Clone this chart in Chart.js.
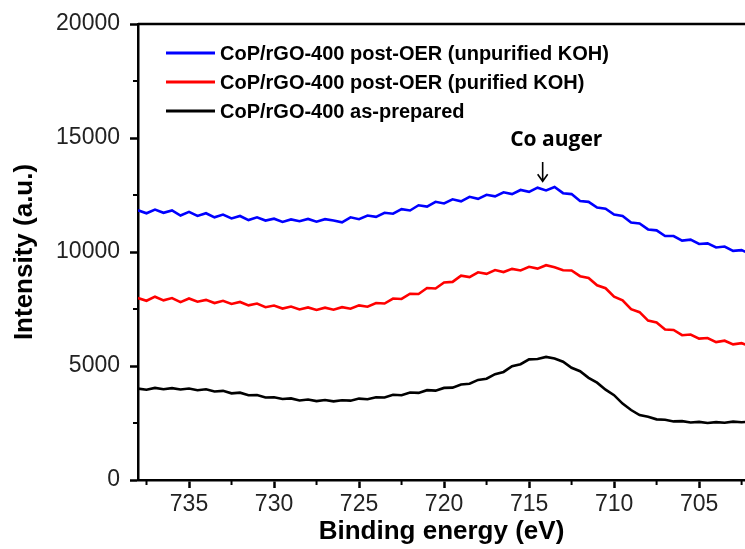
<!DOCTYPE html>
<html>
<head>
<meta charset="utf-8">
<script src="https://cdn.jsdelivr.net/npm/chart.js@4.4.1/dist/chart.umd.min.js"></script>
<style>
  html, body { margin: 0; padding: 0; background: #fff; }
  canvas { display: block; }
</style>
</head>
<body>
<canvas id="xps" width="745" height="549"></canvas>
<script>
// binding energy grid (eV), read left to right off the reversed axis
const energy = [
  738, 737.5, 737, 736.5, 736, 735.5, 735, 734.5, 734, 733.5, 733, 732.5,
  732, 731.5, 731, 730.5, 730, 729.5, 729, 728.5, 728, 727.5, 727, 726.5,
  726, 725.5, 725, 724.5, 724, 723.5, 723, 722.5, 722, 721.5, 721, 720.5,
  720, 719.5, 719, 718.5, 718, 717.5, 717, 716.5, 716, 715.5, 715, 714.5,
  714, 713.5, 713, 712.5, 712, 711.5, 711, 710.5, 710, 709.5, 709, 708.5,
  708, 707.5, 707, 706.5, 706, 705.5, 705, 704.5, 704, 703.5, 703, 702.5, 702
];

// post-OER (unpurified KOH)
const unpurified = [
  11830, 11700, 11860, 11720, 11820, 11600, 11760, 11580, 11700, 11520, 11640, 11470,
  11580, 11400, 11520, 11380, 11460, 11320, 11430, 11350, 11450, 11330, 11440, 11380,
  11300, 11520, 11440, 11600, 11540, 11720, 11680, 11880, 11820, 12050, 11990, 12200,
  12130, 12310, 12220, 12420, 12330, 12510, 12440, 12620, 12540, 12720, 12640, 12820,
  12700, 12850, 12580, 12540, 12240, 12200, 11950, 11900, 11640, 11580, 11290, 11250,
  10990, 10950, 10700, 10700, 10500, 10540, 10350, 10380, 10200, 10240, 10050, 10080, 9920
];

// post-OER (purified KOH)
const purified = [
  7980, 7860, 8040, 7880, 7980, 7800, 7960, 7820, 7900, 7760, 7860, 7720,
  7810, 7660, 7740, 7580, 7650, 7520, 7610, 7480, 7570, 7460, 7560, 7470,
  7580, 7510, 7660, 7600, 7760, 7740, 7960, 7940, 8170, 8160, 8420, 8400,
  8660, 8690, 8960, 8900, 9110, 9040, 9210, 9120, 9260, 9190, 9350, 9270,
  9420, 9330, 9200, 9190, 8940, 8860, 8540, 8410, 8040, 7880, 7490, 7360,
  6990, 6910, 6600, 6580, 6350, 6380, 6200, 6230, 6050, 6110, 5950, 6000, 5860
];

// as-prepared
const asPrepared = [
  4010, 3960, 4040, 3980, 4030, 3970, 4010, 3940, 3980, 3880, 3910, 3800,
  3830, 3720, 3730, 3620, 3630, 3550, 3580, 3490, 3530, 3460, 3510, 3450,
  3500, 3480, 3570, 3540, 3630, 3620, 3740, 3720, 3840, 3820, 3940, 3920,
  4040, 4050, 4190, 4220, 4390, 4440, 4640, 4740, 4990, 5080, 5290, 5310,
  5400, 5330, 5190, 4920, 4770, 4480, 4270, 3960, 3720, 3350, 3070, 2850,
  2770, 2660, 2640, 2570, 2580, 2520, 2550, 2500, 2540, 2510, 2560, 2530, 2570
];

const seriesLabels = [
  "CoP/rGO-400 post-OER (unpurified KOH)",
  "CoP/rGO-400 post-OER (purified KOH)",
  "CoP/rGO-400 as-prepared"
];
const seriesColors = ["#0000ff", "#ff0000", "#000000"];

const xTicks = [737.5, 735, 732.5, 730, 727.5, 725, 722.5, 720, 717.5, 715, 712.5, 710, 707.5, 705, 702.5];
const yTicks = [0, 2500, 5000, 7500, 10000, 12500, 15000, 17500, 20000];

const TICK_FONT = { family: "'Liberation Sans', Arial, sans-serif", size: 23 };
const TITLE_FONT = { family: "'Liberation Sans', Arial, sans-serif", size: 26, weight: "bold" };

function pairs(ys) {
  return energy.map((e, i) => ({ x: e, y: ys[i] }));
}

// labelled ticks; the others are drawn shorter
const xMajor = v => v % 5 === 0;
const yMajor = v => v % 5000 === 0;

const frameAndExtras = {
  id: "frameAndExtras",
  afterDraw(chart) {
    const { ctx, chartArea: a, scales } = chart;
    const xs = scales.x, ys = scales.y;
    ctx.save();
    ctx.strokeStyle = "#000";
    ctx.lineWidth = 2.5;
    // top frame line
    ctx.beginPath();
    ctx.moveTo(a.left, a.top);
    ctx.lineTo(a.right, a.top);
    ctx.stroke();

    // minor ticks
    ctx.lineWidth = 2;
    xTicks.filter(v => !xMajor(v)).forEach(v => {
      const px = xs.getPixelForValue(v);
      ctx.beginPath();
      ctx.moveTo(px, a.bottom);
      ctx.lineTo(px, a.bottom + 5);
      ctx.stroke();
    });
    yTicks.filter(v => !yMajor(v)).forEach(v => {
      const py = ys.getPixelForValue(v);
      ctx.beginPath();
      ctx.moveTo(a.left, py);
      ctx.lineTo(a.left - 5, py);
      ctx.stroke();
    });

    // legend inside the plot
    ctx.font = "bold 20px 'Liberation Sans', Arial, sans-serif";
    ctx.textBaseline = "middle";
    ctx.textAlign = "left";
    chart.data.datasets.forEach((ds, i) => {
      const y = a.top + 29 + i * 29;
      ctx.strokeStyle = ds.borderColor;
      ctx.lineWidth = 3;
      ctx.beginPath();
      ctx.moveTo(a.left + 28, y);
      ctx.lineTo(a.left + 77, y);
      ctx.stroke();
      ctx.fillStyle = "#000";
      ctx.fillText(ds.label, a.left + 82, y + 1);
    });

    // Co auger label and arrow
    const ax = xs.getPixelForValue(714.2);
    ctx.fillStyle = "#000";
    ctx.font = "bold 21px 'Open Sans', sans-serif";
    ctx.textAlign = "center";
    ctx.fillText("Co auger", xs.getPixelForValue(713.4), ys.getPixelForValue(14900));
    const y0 = ys.getPixelForValue(13950), y1 = ys.getPixelForValue(13100);
    ctx.strokeStyle = "#000";
    ctx.lineWidth = 1.6;
    ctx.beginPath();
    ctx.moveTo(ax, y0);
    ctx.lineTo(ax, y1);
    ctx.moveTo(ax - 5, y1 - 7);
    ctx.lineTo(ax, y1);
    ctx.lineTo(ax + 5, y1 - 7);
    ctx.stroke();
    ctx.restore();
  }
};

new Chart(document.getElementById("xps"), {
  type: "line",
  data: {
    datasets: [unpurified, purified, asPrepared].map((ys, i) => ({
      label: seriesLabels[i],
      data: pairs(ys),
      borderColor: seriesColors[i],
      borderWidth: 2.6,
      pointRadius: 0,
      tension: 0,
      fill: false
    }))
  },
  options: {
    responsive: false,
    animation: false,
    devicePixelRatio: 1,
    layout: { padding: { top: 24, right: 0, left: 0, bottom: 0 } },
    plugins: { legend: { display: false }, tooltip: { enabled: false } },
    scales: {
      x: {
        type: "linear",
        reverse: true,
        min: 702.3,
        max: 738,
        afterBuildTicks: s => { s.ticks = xTicks.map(v => ({ value: v })); },
        afterFit: s => { s.height = 69; },
        ticks: {
          color: "#222",
          font: TICK_FONT,
          padding: 3,
          maxRotation: 0,
          autoSkip: false,
          callback: v => (xMajor(v) ? String(v) : "")
        },
        grid: {
          drawOnChartArea: false,
          tickLength: 8,
          tickWidth: 2.5,
          tickColor: c => (c.tick && xMajor(c.tick.value) ? "#000" : "rgba(0,0,0,0)")
        },
        border: { display: true, color: "#000", width: 2.5 },
        title: {
          display: true,
          text: "Binding energy (eV)",
          color: "#000",
          font: TITLE_FONT,
          padding: { top: 0, bottom: 2 }
        }
      },
      y: {
        min: 0,
        max: 20000,
        afterBuildTicks: s => { s.ticks = yTicks.map(v => ({ value: v })); },
        afterFit: s => { s.width = 138; },
        ticks: {
          color: "#222",
          font: TICK_FONT,
          padding: 10,
          autoSkip: false,
          callback: v => (yMajor(v) ? String(v) : "")
        },
        grid: {
          drawOnChartArea: false,
          tickLength: 8,
          tickWidth: 2.5,
          tickColor: c => (c.tick && yMajor(c.tick.value) ? "#000" : "rgba(0,0,0,0)")
        },
        border: { display: true, color: "#000", width: 2.5 },
        title: {
          display: true,
          text: "Intensity (a.u.)",
          color: "#000",
          font: TITLE_FONT,
          padding: { top: 9, bottom: 0 }
        }
      }
    }
  },
  plugins: [frameAndExtras]
});
</script>
</body>
</html>
